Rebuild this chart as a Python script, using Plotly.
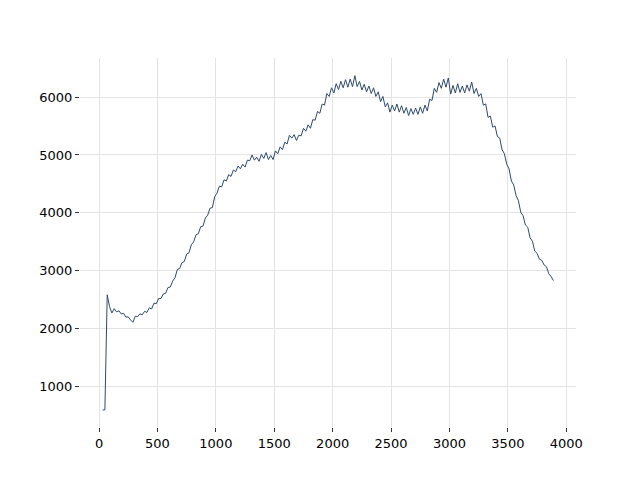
import plotly.graph_objects as go

x_vals = [30, 50, 70, 90, 110, 130, 150, 170, 190, 210, 230, 250, 270, 290, 310, 330, 350, 370, 390, 410,
          430, 450, 470, 490, 510, 530, 550, 570, 590, 610, 630, 650, 670, 690, 710, 730, 750, 770, 790, 810,
          830, 850, 870, 890, 910, 930, 950, 970, 990, 1010, 1030, 1050, 1070, 1090, 1110, 1130, 1150, 1170, 1190, 1210,
          1230, 1250, 1270, 1290, 1310, 1330, 1350, 1370, 1390, 1410, 1430, 1450, 1470, 1490, 1510, 1530, 1550, 1570, 1590, 1610,
          1630, 1650, 1670, 1690, 1710, 1730, 1750, 1770, 1790, 1810, 1830, 1850, 1870, 1890, 1910, 1930, 1950, 1970, 1990, 2010,
          2030, 2050, 2070, 2090, 2110, 2130, 2150, 2170, 2190, 2210, 2230, 2250, 2270, 2290, 2310, 2330, 2350, 2370, 2390, 2410,
          2430, 2450, 2470, 2490, 2510, 2530, 2550, 2570, 2590, 2610, 2630, 2650, 2670, 2690, 2710, 2730, 2750, 2770, 2790, 2810,
          2830, 2850, 2870, 2890, 2910, 2930, 2950, 2970, 2990, 3010, 3030, 3050, 3070, 3090, 3110, 3130, 3150, 3170, 3190, 3210,
          3230, 3250, 3270, 3290, 3310, 3330, 3350, 3370, 3390, 3410, 3430, 3450, 3470, 3490, 3510, 3530, 3550, 3570, 3590, 3610,
          3630, 3650, 3670, 3690, 3710, 3730, 3750, 3770, 3790, 3810, 3830, 3850, 3870, 3890]

y_vals = [595, 598, 2585, 2380, 2270, 2345, 2290, 2310, 2255, 2265, 2200, 2205, 2150, 2110, 2215, 2210, 2255, 2240, 2300, 2280,
          2360, 2340, 2440, 2430, 2520, 2520, 2600, 2610, 2710, 2720, 2820, 2880, 3020, 3040, 3140, 3160, 3290, 3310, 3450, 3500,
          3620, 3640, 3760, 3770, 3910, 3960, 4080, 4090, 4280, 4340, 4460, 4450, 4570, 4550, 4660, 4630, 4740, 4710, 4810, 4760,
          4840, 4790, 4910, 4900, 5000, 4910, 4960, 4890, 5010, 4940, 5040, 4920, 4990, 4920, 5070, 5020, 5140, 5090, 5220, 5190,
          5340, 5290, 5350, 5250, 5340, 5330, 5460, 5410, 5520, 5460, 5610, 5600, 5750, 5720, 5880, 5860, 6060, 6010, 6160, 6070,
          6230, 6130, 6270, 6160, 6300, 6170, 6310, 6180, 6370, 6180, 6270, 6120, 6220, 6090, 6190, 6060, 6160, 6010, 6090, 5920,
          6010, 5830, 5900, 5740, 5860, 5760, 5880, 5740, 5850, 5720, 5820, 5680, 5800, 5700, 5810, 5700, 5830, 5720, 5860, 5760,
          5960, 5940, 6150, 6080, 6250, 6150, 6310, 6170, 6330, 6050, 6200, 6070, 6230, 6080, 6190, 6070, 6210, 6100, 6260, 6060,
          6150, 6010, 6060, 5860, 5880, 5650, 5670, 5480, 5500, 5320, 5290, 5090, 5020, 4840, 4760, 4550, 4480, 4300, 4210, 4010,
          3950, 3790, 3750, 3570, 3510, 3340, 3300, 3200, 3180, 3100, 3070, 2950, 2900, 2830]

x_ticks = [0, 500, 1000, 1500, 2000, 2500, 3000, 3500, 4000]
y_ticks = [1000, 2000, 3000, 4000, 5000, 6000]

fig = go.Figure()
fig.add_trace(go.Scatter(x=x_vals, y=y_vals, mode="lines",
                         line=dict(color="#2e4a6d", width=1), showlegend=False))

axis_common = dict(showgrid=True, gridcolor="#e3e3e3", gridwidth=1.2, zeroline=False,
                   showline=False, ticks="outside", ticklen=4, tickcolor="#333333",
                   tickwidth=1, automargin=False,
                   tickfont=dict(family="DejaVu Sans", size=13, color="black"))

fig.update_layout(
    width=632, height=472,
    paper_bgcolor="white", plot_bgcolor="white",
    margin=dict(l=72, r=64, t=50, b=53, autoexpand=False),
    xaxis=dict(range=[-163, 4083], tickvals=x_ticks, **axis_common),
    yaxis=dict(range=[302, 6674], tickvals=y_ticks, **axis_common),
)

fig.write_html("out.html")
